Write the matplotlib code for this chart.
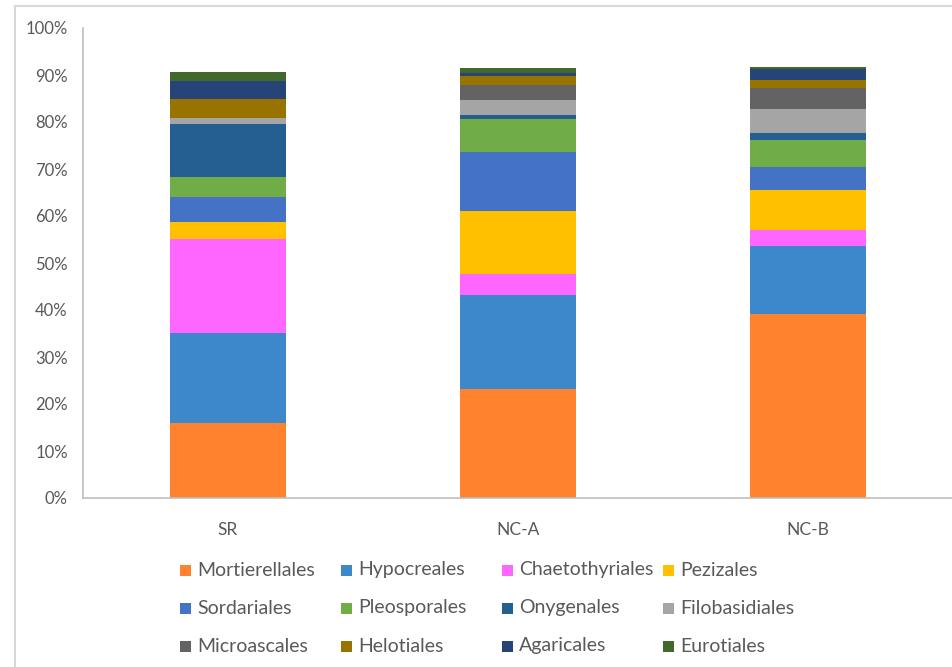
import matplotlib.pyplot as plt
from matplotlib.patches import Rectangle
from matplotlib.ticker import PercentFormatter

# Relative abundance (%) of fungal orders per sample
samples = ["SR", "NC-A", "NC-B"]
orders = ["Mortierellales", "Hypocreales", "Chaetothyriales", "Pezizales",
          "Sordariales", "Pleosporales", "Onygenales", "Filobasidiales",
          "Microascales", "Helotiales", "Agaricales", "Eurotiales"]

mortierellales = [16.0, 23.2, 39.1]
hypocreales = [19.2, 20.0, 14.5]
chaetothyriales = [19.9, 4.5, 3.4]
pezizales = [3.6, 13.4, 8.5]
sordariales = [5.4, 12.6, 5.0]
pleosporales = [4.1, 6.9, 5.7]
onygenales = [11.4, 0.9, 1.4]
filobasidiales = [1.3, 3.2, 5.1]
microascales = [0.0, 3.2, 4.5]
helotiales = [4.1, 1.9, 1.7]
agaricales = [3.8, 0.6, 2.3]
eurotiales = [1.9, 1.1, 0.6]

series = [mortierellales, hypocreales, chaetothyriales, pezizales,
          sordariales, pleosporales, onygenales, filobasidiales,
          microascales, helotiales, agaricales, eurotiales]

colors = ["#FF832E", "#3D88CA", "#FF66FF", "#FFC000",
          "#4472C4", "#70AD47", "#255E91", "#A5A5A5",
          "#636363", "#997300", "#264478", "#43682B"]

plt.rcParams['font.family'] = ['Lato', 'DejaVu Sans']
TEXT = "#595959"
AXIS = "#BFBFBF"

fig = plt.figure(figsize=(9.53, 6.67), dpi=100)
ax = fig.add_axes([83 / 953, 1 - 498 / 667, 1 - 83 / 953, 470 / 667])

x = range(len(samples))
bottom = [0.0] * len(samples)
for vals, col, name in zip(series, colors, orders):
    ax.bar(x, vals, width=0.4, bottom=bottom, color=col, label=name)
    bottom = [b + v for b, v in zip(bottom, vals)]

ax.set_xlim(-0.5, len(samples) - 0.5)
ax.set_ylim(0, 100)
ax.set_yticks(range(0, 101, 10))
ax.yaxis.set_major_formatter(PercentFormatter(decimals=0))
ax.set_xticks(list(x))
ax.set_xticklabels(samples)

for side in ["top", "right"]:
    ax.spines[side].set_visible(False)
for side in ["left", "bottom"]:
    ax.spines[side].set_color(AXIS)
    ax.spines[side].set_linewidth(1.2)
ax.tick_params(axis="y", length=0, pad=11, labelsize=12, labelcolor=TEXT)
ax.tick_params(axis="x", length=0, pad=17, labelsize=12.5, labelcolor=TEXT)

# chart frame (left and top edges)
fig.add_artist(plt.Line2D([15 / 953, 15 / 953], [0, 1 - 6 / 667],
                          transform=fig.transFigure, color="#D9D9D9", lw=1.5))
fig.add_artist(plt.Line2D([15 / 953, 1], [1 - 6 / 667, 1 - 6 / 667],
                          transform=fig.transFigure, color="#D9D9D9", lw=1.5))

# legend laid out as a 4 x 3 grid
col_x = [180, 341, 502, 663]
row_y = [570, 608, 646]
box = 11
for i, (name, col) in enumerate(zip(orders, colors)):
    cx = col_x[i % 4]
    cy = row_y[i // 4]
    fig.add_artist(Rectangle((cx / 953, 1 - (cy + box / 2) / 667),
                             box / 953, box / 667,
                             transform=fig.transFigure, color=col, lw=0))
    fig.text((cx + box + 6) / 953, 1 - cy / 667, name, fontsize=14,
             color=TEXT, va="center", ha="left")

fig.savefig("out.png", dpi=100)
